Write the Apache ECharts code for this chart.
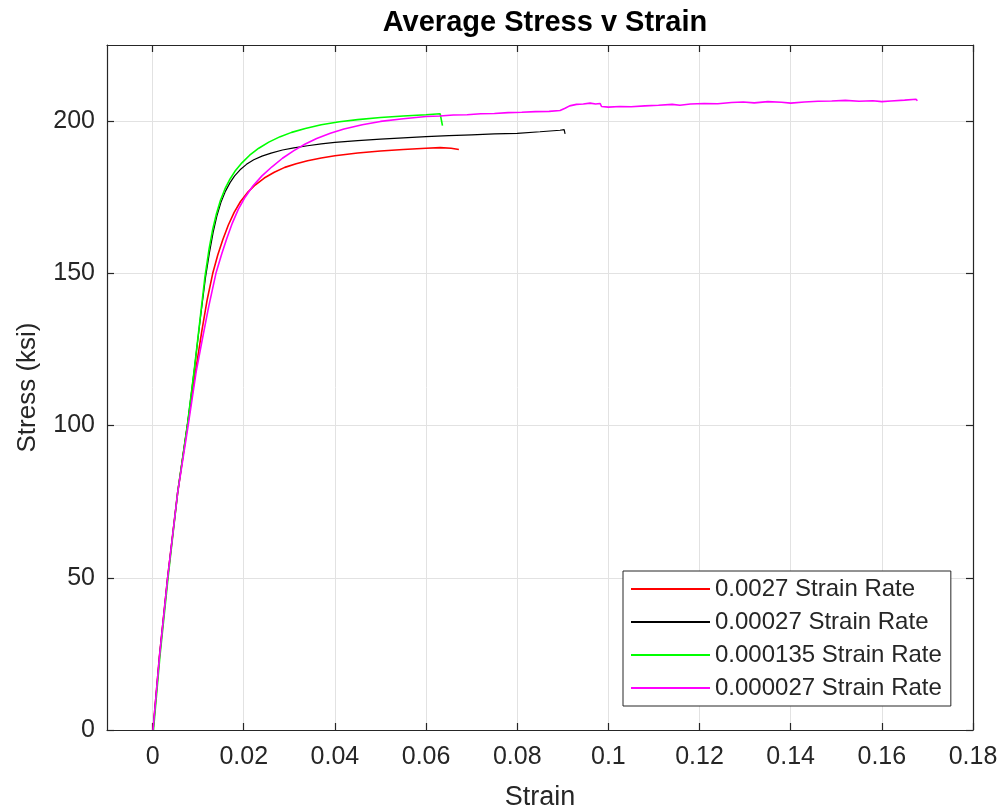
<!DOCTYPE html>
<html>
<head>
<meta charset="utf-8">
<script src="https://cdn.jsdelivr.net/npm/echarts@6/dist/echarts.min.js"></script>
<style>
html,body{margin:0;padding:0;background:#fff;}
#chart{width:1005px;height:812px;}
</style>
</head>
<body>
<div id="chart"></div>
<script>
var seriesNames = ['0.0027 Strain Rate', '0.00027 Strain Rate', '0.000135 Strain Rate', '0.000027 Strain Rate'];
var xTicks = [0, 0.02, 0.04, 0.06, 0.08, 0.1, 0.12, 0.14, 0.16, 0.18];
var yTicks = [0, 50, 100, 150, 200];

var redStrain = [0.0001, 0.0015, 0.0033, 0.0055, 0.0077, 0.0095, 0.0108, 0.012, 0.0132, 0.0143, 0.0154, 0.0166, 0.0179, 0.0193, 0.0208, 0.0225, 0.0245, 0.0267, 0.029, 0.0315, 0.034, 0.037, 0.04, 0.045, 0.05, 0.055, 0.06, 0.0631, 0.0655, 0.0672];
var redStress = [0, 24, 50, 78, 100.5, 118.5, 131, 141.5, 150, 156, 161, 165.8, 170, 173.6, 176.5, 179, 181.3, 183.2, 184.8, 186, 187, 187.9, 188.6, 189.5, 190.2, 190.7, 191.1, 191.3, 191.1, 190.7];

var blackStrain = [0.0001, 0.0015, 0.0033, 0.0055, 0.0077, 0.0092, 0.0105, 0.0116, 0.0125, 0.0133, 0.0141, 0.015, 0.016, 0.017, 0.018, 0.0192, 0.0206, 0.0222, 0.024, 0.026, 0.0285, 0.031, 0.034, 0.037, 0.04, 0.045, 0.05, 0.055, 0.06, 0.065, 0.07, 0.075, 0.08, 0.085, 0.0894, 0.0903, 0.0905];
var blackStress = [0, 24, 50, 78, 101, 119, 135.5, 148.5, 157, 163.5, 168.8, 173.3, 177, 179.8, 182, 184, 185.8, 187.3, 188.5, 189.5, 190.5, 191.2, 191.9, 192.5, 193, 193.6, 194.1, 194.5, 194.9, 195.2, 195.5, 195.8, 196, 196.5, 197.0, 197.2, 195.8];

var greenStrain = [0.0002, 0.0016, 0.0034, 0.0055, 0.0077, 0.0092, 0.0105, 0.0115, 0.0124, 0.0132, 0.014, 0.0149, 0.0159, 0.017, 0.0182, 0.0196, 0.0213, 0.0233, 0.0255, 0.028, 0.0305, 0.0335, 0.037, 0.041, 0.045, 0.05, 0.055, 0.06, 0.0631, 0.0634, 0.0636];
var greenStress = [0, 24, 50, 78, 101, 119, 136, 149, 158, 164.5, 169.5, 174, 177.8, 181, 183.8, 186.3, 188.8, 191.1, 193.1, 194.9, 196.3, 197.6, 198.8, 199.8, 200.5, 201.2, 201.7, 202.1, 202.4, 202.2, 198.5];

var magentaStrain = [0.0001, 0.0015, 0.0033, 0.0055, 0.0078, 0.0096, 0.011, 0.0123, 0.0139, 0.0152, 0.0163, 0.0175, 0.0188, 0.0203, 0.022, 0.024, 0.0262, 0.0285, 0.031, 0.0335, 0.036, 0.039, 0.042, 0.046, 0.05, 0.055, 0.06, 0.063, 0.066, 0.069, 0.072, 0.075, 0.078, 0.081, 0.084, 0.087, 0.0894, 0.0905, 0.0915, 0.093, 0.0945, 0.096, 0.0972, 0.0982, 0.0985, 0.1, 0.1025, 0.105, 0.108, 0.111, 0.114, 0.1157, 0.118, 0.121, 0.124, 0.127, 0.1296, 0.132, 0.135, 0.138, 0.14, 0.143, 0.146, 0.149, 0.152, 0.155, 0.158, 0.16, 0.162, 0.165, 0.1675, 0.1678];
var magentaStress = [0, 24, 50, 78, 100, 118, 129, 139, 150, 156.5, 161.5, 166.5, 171, 175, 178.7, 182, 185, 187.8, 190.3, 192.5, 194.3, 196, 197.4, 198.8, 199.9, 200.8, 201.5, 201.7, 202.0, 202.1, 202.4, 202.5, 202.8, 202.9, 203.1, 203.2, 203.5, 204.2, 205.0, 205.5, 205.6, 205.9, 205.6, 205.8, 204.8, 204.6, 204.8, 204.7, 205.0, 205.2, 205.5, 205.2, 205.6, 205.8, 205.7, 206.1, 206.3, 206.0, 206.4, 206.2, 205.9, 206.3, 206.5, 206.6, 206.8, 206.5, 206.7, 206.4, 206.6, 206.9, 207.2, 206.7];

var seriesColors = ['#ff0000', '#000000', '#00ff00', '#ff00ff'];

function zip(xs, ys) { return xs.map(function (x, i) { return [x, ys[i]]; }); }
var allData = [zip(redStrain, redStress), zip(blackStrain, blackStress), zip(greenStrain, greenStress), zip(magentaStrain, magentaStress)];

var FONT = 'Liberation Sans, Arial, Helvetica, sans-serif';
var AX = '#262626';
var GRID = '#e2e2e2';

var chart = echarts.init(document.getElementById('chart'), null, { renderer: 'canvas' });

var option = {
  backgroundColor: '#ffffff',
  animation: false,
  title: {
    text: 'Average Stress v Strain',
    left: 540,
    top: 3,
    textAlign: 'center',
    textStyle: { fontFamily: FONT, fontSize: 29, fontWeight: 'bold', color: '#000' }
  },
  grid: { left: 107, right: 32, top: 45, bottom: 82, containLabel: false, outerBoundsMode: 'none' },
  legend: {
    orient: 'vertical',
    left: 623,
    top: 571,
    padding: [3, 9, 3, 8],
    itemGap: 3,
    itemWidth: 79,
    itemHeight: 2,
    icon: 'rect',
    backgroundColor: '#ffffff',
    borderColor: AX,
    borderWidth: 1,
    z: 10,
    textStyle: { fontFamily: FONT, fontSize: 24, color: AX, lineHeight: 30 },
    data: seriesNames
  },
  xAxis: [
    {
      type: 'value', position: 'bottom', min: -0.01, max: 0.18,
      name: 'Strain', nameLocation: 'middle', nameGap: 54,
      nameTextStyle: { fontFamily: FONT, fontSize: 27, color: AX },
      axisLine: { show: true, onZero: false, lineStyle: { color: AX, width: 1.2 } },
      axisTick: { show: true, inside: true, length: 7, customValues: xTicks, lineStyle: { color: AX, width: 1.2 } },
      axisLabel: { show: true, customValues: xTicks, margin: 15, fontFamily: FONT, fontSize: 25, color: AX },
      splitLine: { show: true, lineStyle: { color: GRID, width: 1 } }
    },
    {
      type: 'value', position: 'top', min: -0.01, max: 0.18,
      axisLine: { show: true, onZero: false, lineStyle: { color: AX, width: 1.2 } },
      axisTick: { show: true, inside: true, length: 7, customValues: xTicks, lineStyle: { color: AX, width: 1.2 } },
      axisLabel: { show: false },
      splitLine: { show: false }
    }
  ],
  yAxis: [
    {
      type: 'value', position: 'left', min: 0, max: 225,
      name: 'Stress (ksi)', nameLocation: 'middle', nameGap: 66,
      nameTextStyle: { fontFamily: FONT, fontSize: 26, color: AX },
      axisLine: { show: true, onZero: false, lineStyle: { color: AX, width: 1.2 } },
      axisTick: { show: true, inside: true, length: 7, customValues: yTicks, lineStyle: { color: AX, width: 1.2 } },
      axisLabel: { show: true, customValues: yTicks, margin: 12, fontFamily: FONT, fontSize: 25, color: AX },
      splitLine: { show: true, lineStyle: { color: GRID, width: 1 } }
    },
    {
      type: 'value', position: 'right', min: 0, max: 225,
      axisLine: { show: true, onZero: false, lineStyle: { color: AX, width: 1.2 } },
      axisTick: { show: true, inside: true, length: 7, customValues: yTicks, lineStyle: { color: AX, width: 1.2 } },
      axisLabel: { show: false },
      splitLine: { show: false }
    }
  ],
  series: seriesNames.map(function (name, i) {
    return {
      name: name,
      type: 'line',
      xAxisIndex: 0,
      yAxisIndex: 0,
      data: allData[i],
      showSymbol: false,
      symbol: 'none',
      smooth: false,
      color: seriesColors[i],
      lineStyle: { color: seriesColors[i], width: i === 1 ? 1.2 : 1.6 },
      z: 2 + i
    };
  })
};
chart.setOption(option);
</script>
</body>
</html>
